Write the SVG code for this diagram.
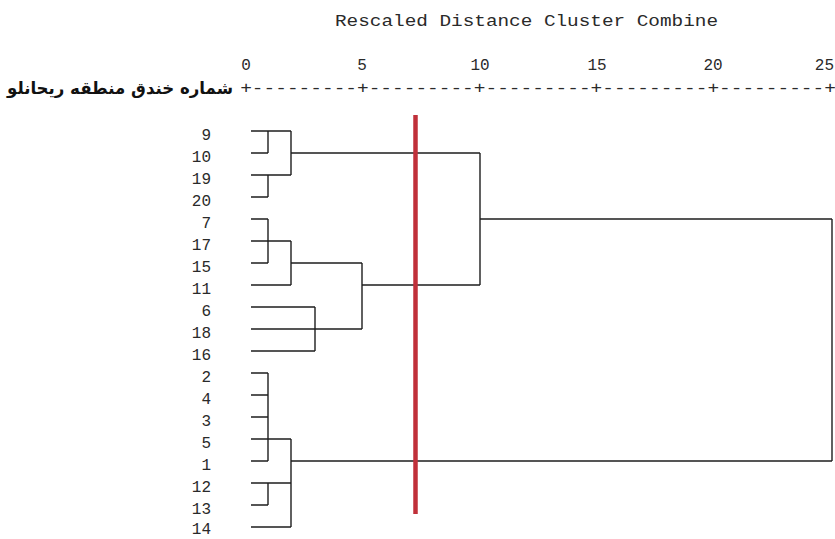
<svg xmlns="http://www.w3.org/2000/svg" width="835" height="539" viewBox="0 0 835 539">
  <style>
    .mono { font-family: "Liberation Mono", "DejaVu Sans Mono", monospace; font-size: 16px; fill: #2a2a2a; }
    .leaf { text-anchor: end; }
    .tick { text-anchor: middle; }
    .fa { font-family: "DejaVu Sans", "Noto Sans", sans-serif; font-size: 17px; font-weight: bold; fill: #111; }
    .link { fill: none; stroke: #1e1e1e; stroke-width: 1.4; }
    .cut { stroke: #c0303a; stroke-width: 4.5; }
  </style>
  <rect width="835" height="539" fill="#ffffff"/>

  <!-- header: title, axis scale and ruler -->
  <g id="header">
    <text class="mono" x="335" y="26" textLength="383" lengthAdjust="spacingAndGlyphs">Rescaled Distance Cluster Combine</text>
    <text class="mono tick" x="246" y="70">0</text>
    <text class="mono tick" x="362" y="70">5</text>
    <text class="mono tick" x="480" y="70">10</text>
    <text class="mono tick" x="597" y="70">15</text>
    <text class="mono tick" x="713" y="70">20</text>
    <text class="mono" x="834" y="70" text-anchor="end">25</text>
    <text class="mono" x="240.2" y="93" textLength="595.7" lengthAdjust="spacingAndGlyphs">+---------+---------+---------+---------+---------+</text>
    <text class="fa" x="233" y="94" text-anchor="end" textLength="226" lengthAdjust="spacingAndGlyphs">شماره خندق منطقه ریحانلو</text>
  </g>

  <!-- leaves, one row every 22px starting at y=131 -->
  <g id="leaf-9"><text class="mono leaf" x="211" y="140">9</text></g>
  <g id="leaf-10"><text class="mono leaf" x="211" y="162">10</text></g>
  <g id="leaf-19"><text class="mono leaf" x="211" y="184">19</text></g>
  <g id="leaf-20"><text class="mono leaf" x="211" y="206">20</text></g>
  <g id="leaf-7"><text class="mono leaf" x="211" y="228">7</text></g>
  <g id="leaf-17"><text class="mono leaf" x="211" y="250">17</text></g>
  <g id="leaf-15"><text class="mono leaf" x="211" y="272">15</text></g>
  <g id="leaf-11"><text class="mono leaf" x="211" y="294">11</text></g>
  <g id="leaf-6"><text class="mono leaf" x="211" y="316">6</text></g>
  <g id="leaf-18"><text class="mono leaf" x="211" y="338">18</text></g>
  <g id="leaf-16"><text class="mono leaf" x="211" y="360">16</text></g>
  <g id="leaf-2"><text class="mono leaf" x="211" y="382">2</text></g>
  <g id="leaf-4"><text class="mono leaf" x="211" y="404">4</text></g>
  <g id="leaf-3"><text class="mono leaf" x="211" y="426">3</text></g>
  <g id="leaf-5"><text class="mono leaf" x="211" y="448">5</text></g>
  <g id="leaf-1"><text class="mono leaf" x="211" y="470">1</text></g>
  <g id="leaf-12"><text class="mono leaf" x="211" y="492">12</text></g>
  <g id="leaf-13"><text class="mono leaf" x="211" y="514">13</text></g>
  <g id="leaf-14"><text class="mono leaf" x="211" y="534">14</text></g>

  <!-- dendrogram links -->
  <g id="connectors">
    <path class="link" d="M251,131H291 M268,131V153 M251,153H268 M291,131V175 M251,175H291 M268,175V197 M251,197H268 M291,153H480"/>
    <path class="link" d="M251,219H268 M268,219V263 M251,241H291 M291,241V285 M251,263H268 M291,263H362 M251,285H291 M362,263V329 M362,285H480"/>
    <path class="link" d="M251,307H315 M251,329H362 M251,351H315 M315,307V351"/>
    <path class="link" d="M480,153V285 M480,219H832 M832,219V461"/>
    <path class="link" d="M251,373H268 M268,373V461 M251,395H268 M251,417H268 M251,439H291 M251,461H268 M291,439V527 M291,461H832 M251,483H291 M268,483V505 M251,505H268 M251,527H291"/>
  </g>

  <!-- cut line -->
  <line id="cut-line" class="cut" x1="415.5" y1="115" x2="415.5" y2="514"/>
</svg>
